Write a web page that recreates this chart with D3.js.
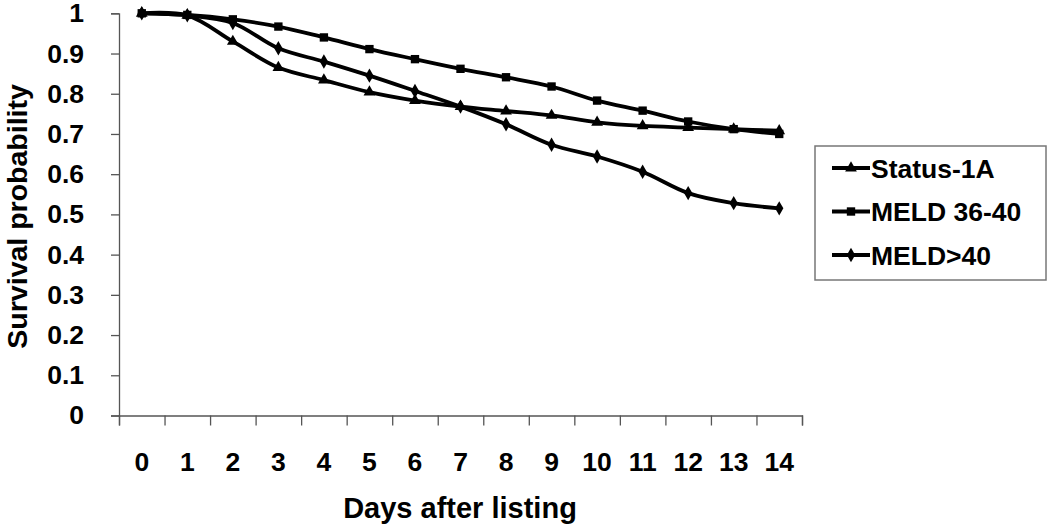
<!DOCTYPE html>
<html>
<head>
<meta charset="utf-8">
<script src="https://cdn.jsdelivr.net/npm/d3@7"></script>
<style>
  body { margin: 0; background: #fff; }
  svg { font-family: "Liberation Sans", Arial, sans-serif; font-weight: bold; }
</style>
</head>
<body>
<svg width="1050" height="531"></svg>
<script>
// data
const days = [0, 1, 2, 3, 4, 5, 6, 7, 8, 9, 10, 11, 12, 13, 14];
const status1A = [1, 0.995, 0.93, 0.865, 0.834, 0.804, 0.783, 0.768, 0.757, 0.746, 0.729, 0.72, 0.716, 0.712, 0.708];
const meld3640 = [1, 0.996, 0.985, 0.967, 0.94, 0.911, 0.886, 0.862, 0.841, 0.818, 0.783, 0.758, 0.731, 0.712, 0.7];
const meld40 = [1, 0.995, 0.976, 0.913, 0.88, 0.845, 0.807, 0.768, 0.724, 0.673, 0.644, 0.606, 0.553, 0.528, 0.515];
const yTicks = [0, 0.1, 0.2, 0.3, 0.4, 0.5, 0.6, 0.7, 0.8, 0.9, 1];
const seriesNames = ["Status-1A", "MELD 36-40", "MELD>40"];

const svg = d3.select("svg");
svg.append("rect").attr("width", 1050).attr("height", 531).attr("fill", "#fff");

const plotLeft = 119, plotRight = 802, plotTop = 13.3, plotBottom = 415.5;

const x = d3.scaleBand().domain(days).range([plotLeft, plotRight]).padding(0);
const xEdge = d3.scaleLinear().domain([0, days.length]).range([plotLeft, plotRight]);
const y = d3.scaleLinear().domain([0, 1]).range([plotBottom, plotTop]);

const axisColor = "#555";

// y axis
const yAxis = svg.append("g")
    .attr("transform", `translate(${plotLeft},0)`)
    .call(d3.axisLeft(y).tickValues(yTicks).tickSize(8).tickPadding(27)
        .tickFormat(d => d === 0 || d === 1 ? d3.format("d")(d) : d3.format(".1f")(d)));
yAxis.select(".domain").attr("stroke", axisColor).attr("stroke-width", 1.3);
yAxis.selectAll(".tick line").attr("stroke", axisColor).attr("stroke-width", 1.3);
yAxis.selectAll("text").attr("font-size", 26.5).attr("fill", "#000")
    .attr("font-family", "Liberation Sans, Arial, sans-serif").attr("font-weight", "bold");

// x axis: boundary ticks, then category labels
const xTicks = svg.append("g")
    .attr("transform", `translate(0,${plotBottom})`)
    .call(d3.axisBottom(xEdge).tickValues(d3.range(days.length + 1)).tickSize(10).tickFormat(""));
xTicks.select(".domain").attr("stroke", axisColor).attr("stroke-width", 1.3);
xTicks.selectAll(".tick line").attr("stroke", axisColor).attr("stroke-width", 1.3);

const xLabels = svg.append("g")
    .attr("transform", `translate(0,${plotBottom})`)
    .call(d3.axisBottom(x).tickSize(0).tickPadding(37));
xLabels.select(".domain").remove();
xLabels.selectAll("text").attr("font-size", 26.5).attr("fill", "#000")
    .attr("font-family", "Liberation Sans, Arial, sans-serif").attr("font-weight", "bold");

// axis titles
svg.append("text")
    .attr("x", 460)
    .attr("y", 518)
    .attr("text-anchor", "middle")
    .attr("font-size", 29)
    .text("Days after listing");

svg.append("text")
    .attr("transform", `translate(27,${(plotTop + plotBottom) / 2 + 2}) rotate(-90)`)
    .attr("text-anchor", "middle")
    .attr("font-size", 28.5)
    .text("Survival probability");

// series
const cx = d => x(d) + x.bandwidth() / 2;
const line = d3.line()
    .x((d, i) => cx(days[i]))
    .y(d => y(d))
    .curve(d3.curveCatmullRom.alpha(0.5));

const symbols = [d3.symbolTriangle, d3.symbolSquare, d3.symbolDiamond];
const symSizes = [60, 70, 60];
const allSeries = [status1A, meld3640, meld40];

// draw order: Status-1A, MELD>40, MELD 36-40 on top
[0, 2, 1].forEach(k => {
    const vals = allSeries[k];
    svg.append("path")
        .datum(vals)
        .attr("fill", "none")
        .attr("stroke", "#000")
        .attr("stroke-width", 3.8)
        .attr("d", line);
    svg.append("g").selectAll("path")
        .data(vals)
        .join("path")
        .attr("transform", (d, i) => `translate(${cx(days[i])},${y(d)})`)
        .attr("d", d3.symbol(symbols[k], symSizes[k]))
        .attr("fill", "#000");
});

// legend
const legend = svg.append("g");
legend.append("rect")
    .attr("x", 815).attr("y", 146)
    .attr("width", 231).attr("height", 134)
    .attr("fill", "#fff")
    .attr("stroke", "#777")
    .attr("stroke-width", 1.5);

const rowY = d3.scalePoint().domain(seriesNames).range([168, 255]);
const items = legend.selectAll("g.item")
    .data(seriesNames)
    .join("g")
    .attr("class", "item")
    .attr("transform", d => `translate(0,${rowY(d)})`);
items.append("line")
    .attr("x1", 832).attr("x2", 870)
    .attr("stroke", "#000").attr("stroke-width", 3.8);
items.append("path")
    .attr("transform", "translate(851,0)")
    .attr("d", (d, i) => d3.symbol(symbols[i], symSizes[i])())
    .attr("fill", "#000");
items.append("text")
    .attr("x", 871)
    .attr("y", 9.5)
    .attr("font-size", 26.5)
    .text(d => d);
</script>
</body>
</html>
